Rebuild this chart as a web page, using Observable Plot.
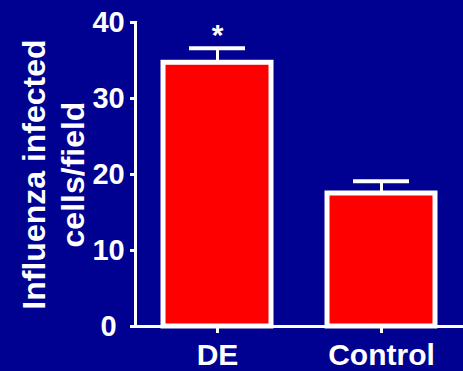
<!DOCTYPE html>
<html>
<head>
<meta charset="utf-8">
<script src="https://cdn.jsdelivr.net/npm/d3@7"></script>
<script src="https://cdn.jsdelivr.net/npm/@observablehq/plot@0.6"></script>
<style>
  html, body { margin: 0; padding: 0; background: #000091; }
  #chart svg { display: block; }
</style>
</head>
<body>
<div id="chart"></div>
<script>
// Influenza infected cells per field, mean with upper SEM bar
const groups = ["DE", "Control"];
const means = [34.7, 17.5];
const sems = [1.9, 1.6];
const marks = ["*", ""];
const yTicks = [0, 10, 20, 30, 40];

const rows = groups.map((g, i) => ({
  group: g,
  mean: means[i],
  top: means[i] + sems[i],
  mark: marks[i]
}));

const chart = Plot.plot({
  width: 463,
  height: 371,
  marginTop: 22,
  marginBottom: 45,
  marginLeft: 135,
  marginRight: 0,
  style: {
    background: "#000091",
    color: "white",
    fontFamily: "'Liberation Sans', Arial, sans-serif",
    fontWeight: "bold",
    fontSize: "28px"
  },
  x: {domain: groups, paddingInner: 0.3415, paddingOuter: 0.1707},
  y: {domain: [0, 40]},
  marks: [
    Plot.barY(rows, {x: "group", y: "mean", fill: "#ff0000", stroke: "white", strokeWidth: 5}),
    Plot.frame({anchor: "left", stroke: "white", strokeWidth: 3}),
    Plot.frame({anchor: "bottom", stroke: "white", strokeWidth: 3}),
    Plot.axisY({
      ticks: yTicks,
      tickSize: 5,
      tickPadding: 22,
      textAnchor: "middle",
      strokeWidth: 3,
      label: null,
      fontSize: 29
    }),
    Plot.axisX({
      tickSize: 7,
      tickPadding: 10,
      strokeWidth: 3,
      label: null,
      fontSize: 30
    }),
    Plot.ruleX(rows, {x: "group", y1: "mean", y2: "top", stroke: "white", strokeWidth: 3}),
    Plot.tickY(rows, {x: "group", y: "top", stroke: "white", strokeWidth: 4, insetLeft: 26, insetRight: 26}),
    Plot.text(rows, {x: "group", y: "top", text: "mark", fill: "white", fontSize: 30, lineAnchor: "bottom", dy: -3}),
    Plot.text(["Influenza infected\ncells/field"], {
      frameAnchor: "left",
      text: d => d,
      rotate: -90,
      textAnchor: "middle",
      lineAnchor: "bottom",
      lineHeight: 1.19,
      dx: -52,
      fill: "white",
      fontSize: 32
    })
  ]
});

document.getElementById("chart").append(chart);
</script>
</body>
</html>
